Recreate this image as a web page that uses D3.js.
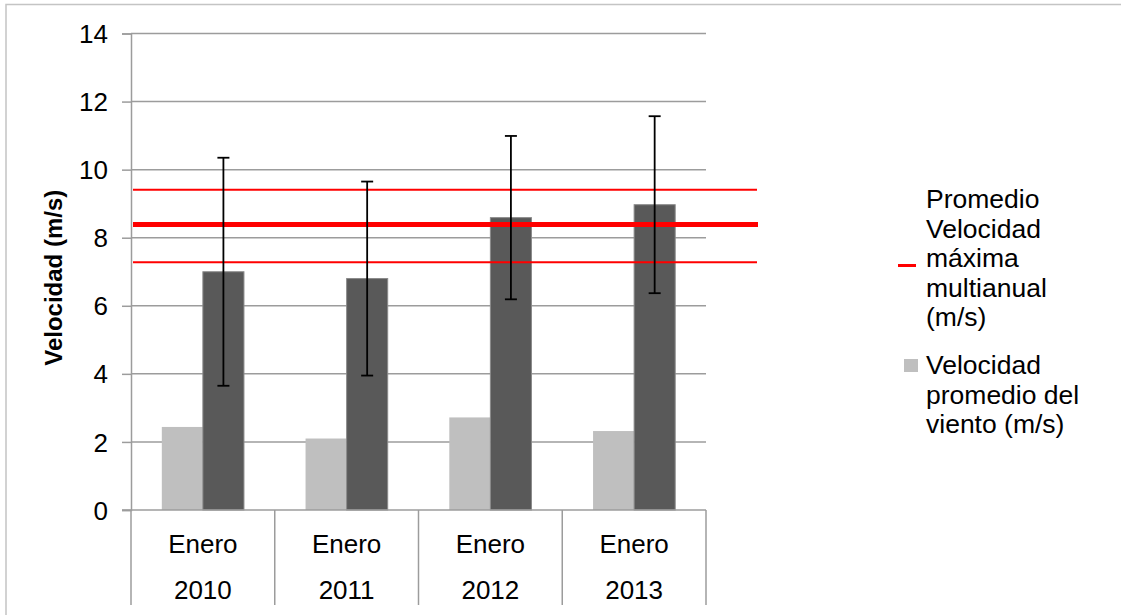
<!DOCTYPE html>
<html>
<head>
<meta charset="utf-8">
<script src="https://cdn.jsdelivr.net/npm/d3@7"></script>
<style>
  html, body { margin: 0; padding: 0; background: #fff; }
  svg { display: block; }
  svg text { font-family: "Liberation Sans", Arial, sans-serif; }
</style>
</head>
<body>
<svg id="chart" width="1121" height="615"></svg>
<script>
// ---- data ----
const categories = ["2010", "2011", "2012", "2013"];
const monthLabel = "Enero";
const avgSpeed = [2.44, 2.1, 2.72, 2.32];          // Velocidad promedio del viento (m/s)
const maxSpeed = [7.0, 6.8, 8.59, 8.97];           // Velocidad máxima (dark bars)
const maxSpeedErr = [3.35, 2.85, 2.4, 2.6];        // error bar half-length
const multiAnnualMean = 8.39;                      // Promedio velocidad máxima multianual
const multiAnnualBand = [9.41, 7.28];              // upper / lower reference lines
const yTicks = [0, 2, 4, 6, 8, 10, 12, 14];
const yTitle = "Velocidad (m/s)";
const legendLine = ["Promedio", "Velocidad", "máxima", "multianual", "(m/s)"];
const legendBar = ["Velocidad", "promedio del", "viento (m/s)"];

(function () {
// ---- layout ----
const svg = d3.select("#chart");
const pLeft = 131, pRight = 706, pTop = 33.5, pBottom = 510;
const FS = 26;

// outer border
svg.append("rect").attr("x", 6).attr("y", 4.5).attr("width", 1130).attr("height", 620)
  .attr("fill", "none").attr("stroke", "#c4c4c4").attr("stroke-width", 1.5);

const y = d3.scaleLinear().domain([0, 14]).range([pBottom, pTop]);
const x0 = d3.scaleBand().domain(categories).range([pLeft, pRight]).padding(0);
const bw = x0.bandwidth() / 3.5;

// gridlines
svg.append("g").selectAll("line").data(yTicks.filter(d => d > 0)).join("line")
  .attr("x1", pLeft).attr("x2", pRight)
  .attr("y1", d => y(d)).attr("y2", d => y(d))
  .attr("stroke", "#9c9c9c").attr("stroke-width", 1.5);

// y axis
const yAxis = d3.axisLeft(y).tickValues(yTicks).tickSize(9).tickPadding(14).tickFormat(d3.format("d"));
const gy = svg.append("g").attr("transform", `translate(${pLeft},0)`).call(yAxis);
gy.attr("font-family", null).attr("font-size", null);
gy.select(".domain").attr("stroke", "#9c9c9c").attr("stroke-width", 1.5);
gy.selectAll(".tick line").attr("stroke", "#9c9c9c").attr("stroke-width", 1.5);
gy.selectAll(".tick text").attr("font-size", FS).attr("fill", "#000").attr("dy", "0.35em");

// bars
const bars = svg.append("g");
bars.selectAll("rect.avg").data(categories).join("rect").attr("class", "avg")
  .attr("x", d => x0(d) + x0.bandwidth() / 2 - bw)
  .attr("width", bw)
  .attr("y", (d, i) => y(avgSpeed[i]))
  .attr("height", (d, i) => y(0) - y(avgSpeed[i]))
  .attr("fill", "#bfbfbf");
bars.selectAll("rect.max").data(categories).join("rect").attr("class", "max")
  .attr("x", d => x0(d) + x0.bandwidth() / 2)
  .attr("width", bw)
  .attr("y", (d, i) => y(maxSpeed[i]))
  .attr("height", (d, i) => y(0) - y(maxSpeed[i]))
  .attr("fill", "#595959").attr("stroke", "#8a8a8a").attr("stroke-width", 1);

// x axis baseline
svg.append("line").attr("x1", pLeft - 9).attr("x2", pRight)
  .attr("y1", y(0)).attr("y2", y(0))
  .attr("stroke", "#9c9c9c").attr("stroke-width", 1.5);

// category separators
const seps = categories.map(c => x0(c)).concat([pRight]);
svg.append("g").selectAll("line").data(seps).join("line")
  .attr("x1", d => d).attr("x2", d => d)
  .attr("y1", y(0)).attr("y2", 605)
  .attr("stroke", "#9c9c9c").attr("stroke-width", 1.5);

// category labels
const lab = svg.append("g").attr("font-size", FS).attr("fill", "#000").attr("text-anchor", "middle");
lab.selectAll("text.m").data(categories).join("text").attr("class", "m")
  .attr("x", d => x0(d) + x0.bandwidth() / 2).attr("y", 553).text(monthLabel);
lab.selectAll("text.yr").data(categories).join("text").attr("class", "yr")
  .attr("x", d => x0(d) + x0.bandwidth() / 2).attr("y", 599).text(d => d);

// reference red lines
const lineEnd = pRight + 51, lineStart = pLeft + 2;
svg.append("g").selectAll("line").data(multiAnnualBand).join("line")
  .attr("x1", lineStart).attr("x2", lineEnd)
  .attr("y1", d => y(d)).attr("y2", d => y(d))
  .attr("stroke", "#ff0000").attr("stroke-width", 2);
svg.append("line")
  .attr("x1", lineStart).attr("x2", lineEnd + 1)
  .attr("y1", y(multiAnnualMean)).attr("y2", y(multiAnnualMean))
  .attr("stroke", "#ff0000").attr("stroke-width", 5);

// error bars
const eb = svg.append("g").attr("stroke", "#000").attr("stroke-width", 1.8);
categories.forEach((c, i) => {
  const cx = x0(c) + x0.bandwidth() / 2 + bw / 2;
  const hi = y(maxSpeed[i] + maxSpeedErr[i]);
  const lo = y(maxSpeed[i] - maxSpeedErr[i]);
  eb.append("line").attr("x1", cx).attr("x2", cx).attr("y1", hi).attr("y2", lo);
  eb.append("line").attr("x1", cx - 6).attr("x2", cx + 6).attr("y1", hi).attr("y2", hi);
  eb.append("line").attr("x1", cx - 6).attr("x2", cx + 6).attr("y1", lo).attr("y2", lo);
});

// y title
svg.append("text")
  .attr("transform", `translate(62,${(pTop + pBottom) / 2 + 6}) rotate(-90)`)
  .attr("text-anchor", "middle").attr("font-size", 24).attr("font-weight", "bold")
  .attr("fill", "#000").text(yTitle);

// legend
const lg = svg.append("g").attr("font-size", 26.5).attr("fill", "#000");
const lineH = 29.5;
lg.selectAll("text.l1").data(legendLine).join("text").attr("class", "l1")
  .attr("x", 926).attr("y", (d, i) => 208 + i * lineH).text(d => d);
lg.append("line").attr("x1", 898).attr("x2", 916).attr("y1", 265.5).attr("y2", 265.5)
  .attr("stroke", "#ff0000").attr("stroke-width", 3);
lg.append("rect").attr("x", 904).attr("y", 359).attr("width", 14).attr("height", 13).attr("fill", "#bfbfbf");
lg.selectAll("text.l2").data(legendBar).join("text").attr("class", "l2")
  .attr("x", 926).attr("y", (d, i) => 374 + i * lineH).text(d => d);
})();
</script>
</body>
</html>
